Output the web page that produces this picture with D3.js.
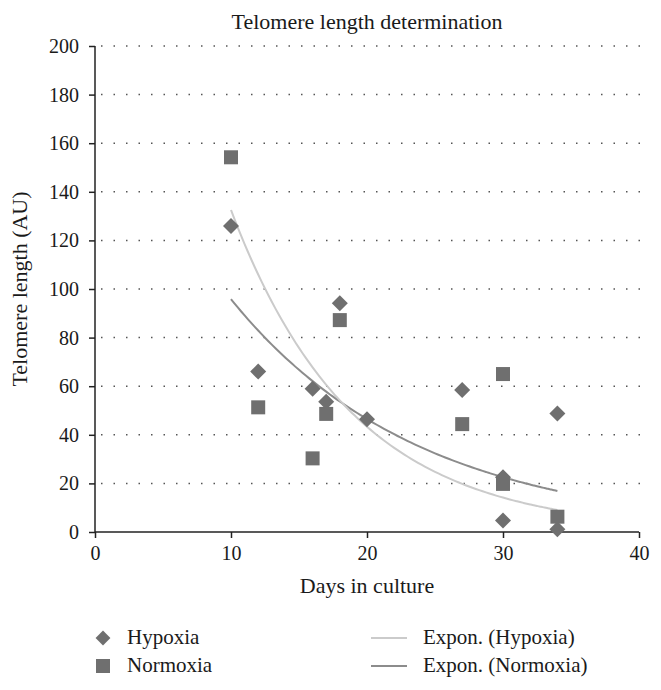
<!DOCTYPE html>
<html>
<head>
<meta charset="utf-8">
<script src="https://cdn.jsdelivr.net/npm/d3@7"></script>
<style>
  html, body { margin: 0; padding: 0; background: #fff; }
  svg text { font-family: "Liberation Serif", "DejaVu Serif", serif; fill: #1a1a1a; }
</style>
</head>
<body>
<svg id="chart" width="661" height="690"></svg>
<script>
// ---- data ----
const hypoxiaDays   = [10, 12, 16, 17, 18, 20, 27, 30, 30, 34, 34];
const hypoxiaValues = [125.9, 66, 59, 53.6, 94.1, 46.4, 58.4, 22.5, 4.7, 48.8, 1.1];
const normoxiaDays   = [10, 12, 16, 17, 18, 27, 30, 30, 34];
const normoxiaValues = [154.2, 51.3, 30.3, 48.6, 87.2, 44.4, 65, 19.8, 6.3];
// exponential trendline coefficients y = a * exp(b * x), drawn over [from, to]
const trendHypoxia  = [405.3, -0.1118, 10, 34];
const trendNormoxia = [197.4, -0.0723, 10, 34];
const xTicks = [0, 10, 20, 30, 40];
const yTicks = [0, 20, 40, 60, 80, 100, 120, 140, 160, 180, 200];
const seriesNames = ["Hypoxia", "Normoxia", "Expon. (Hypoxia)", "Expon. (Normoxia)"];
const titleText = "Telomere length determination";
const xTitle = "Days in culture";
const yTitle = "Telomere length (AU)";

(function () {
// ---- layout ----
const svg = d3.select("#chart");
const pLeft = 95, pRight = 639, pTop = 46, pBottom = 532;
const x = d3.scaleLinear().domain([0, 40]).range([pLeft, pRight]);
const y = d3.scaleLinear().domain([0, 200]).range([pBottom, pTop]);
const markerColor = "#6f6f6f";
const lightTrend = "#cbcbcb";
const darkTrend = "#8c8c8c";

// title
svg.append("text").attr("x", (pLeft + pRight) / 2).attr("y", 29)
  .attr("text-anchor", "middle").attr("font-size", 22).text(titleText);

// gridlines (dotted)
svg.append("g").selectAll("line").data(yTicks.filter(d => d > 0)).join("line")
  .attr("x1", pLeft + 6).attr("x2", pRight + 3)
  .attr("y1", d => y(d)).attr("y2", d => y(d))
  .attr("stroke", "#555").attr("stroke-width", 1.5)
  .attr("stroke-dasharray", "1.5,11");

// axes
const xAxis = svg.append("g").attr("transform", `translate(0,${pBottom})`)
  .call(d3.axisBottom(x).tickValues(xTicks).tickSize(6).tickPadding(8).tickFormat(d3.format("d")));
const yAxis = svg.append("g").attr("transform", `translate(${pLeft},0)`)
  .call(d3.axisLeft(y).tickValues(yTicks).tickSize(6).tickPadding(10).tickFormat(d3.format("d")));
[xAxis, yAxis].forEach(g => {
  g.attr("font-family", "Liberation Serif, DejaVu Serif, serif");
  g.select(".domain").attr("stroke", "#222").attr("stroke-width", 1.5);
  g.selectAll(".tick line").attr("stroke", "#222").attr("stroke-width", 1.5);
  g.selectAll(".tick text").attr("font-size", 20).attr("fill", "#1a1a1a");
});
xAxis.select(".domain").attr("d", `M${pLeft},0H${pRight}`);
yAxis.select(".domain").attr("d", `M0,${pBottom}V${pTop}`);

// axis titles
svg.append("text").attr("x", (pLeft + pRight) / 2).attr("y", 593)
  .attr("text-anchor", "middle").attr("font-size", 22).text(xTitle);
svg.append("text").attr("transform", `translate(27,${(pTop + pBottom) / 2}) rotate(-90)`)
  .attr("text-anchor", "middle").attr("font-size", 22).text(yTitle);

// trendlines
function trendPoints(t) {
  const [a, b, from, to] = t;
  return d3.range(from, to + 0.001, 0.25).map(v => [v, a * Math.exp(b * v)]);
}
const line = d3.line().x(d => x(d[0])).y(d => y(d[1])).curve(d3.curveMonotoneX);
svg.append("path").datum(trendPoints(trendNormoxia)).attr("d", line)
  .attr("fill", "none").attr("stroke", darkTrend).attr("stroke-width", 2);
svg.append("path").datum(trendPoints(trendHypoxia)).attr("d", line)
  .attr("fill", "none").attr("stroke", lightTrend).attr("stroke-width", 2);

// markers
const diamond = d3.symbol().type(d3.symbolSquare).size(128);
svg.append("g").selectAll("path").data(hypoxiaDays.map((d, i) => [d, hypoxiaValues[i]])).join("path")
  .attr("d", diamond)
  .attr("transform", d => `translate(${x(d[0])},${y(d[1])}) rotate(45)`)
  .attr("fill", markerColor);
svg.append("g").selectAll("rect").data(normoxiaDays.map((d, i) => [d, normoxiaValues[i]])).join("rect")
  .attr("x", d => x(d[0]) - 7).attr("y", d => y(d[1]) - 7)
  .attr("width", 14).attr("height", 14)
  .attr("fill", markerColor);

// legend
const legY1 = 638, legY2 = 666;
svg.append("path").attr("d", d3.symbol().type(d3.symbolSquare).size(110))
  .attr("transform", `translate(103,${legY1}) rotate(45)`).attr("fill", markerColor);
svg.append("rect").attr("x", 96).attr("y", legY2 - 7).attr("width", 14).attr("height", 14).attr("fill", markerColor);
svg.append("text").attr("x", 127).attr("y", legY1 + 6).attr("font-size", 21).text(seriesNames[0]);
svg.append("text").attr("x", 127).attr("y", legY2 + 6).attr("font-size", 21).text(seriesNames[1]);
svg.append("line").attr("x1", 371).attr("x2", 407).attr("y1", legY1).attr("y2", legY1)
  .attr("stroke", lightTrend).attr("stroke-width", 2);
svg.append("line").attr("x1", 371).attr("x2", 407).attr("y1", legY2).attr("y2", legY2)
  .attr("stroke", darkTrend).attr("stroke-width", 2);
svg.append("text").attr("x", 423).attr("y", legY1 + 6).attr("font-size", 21).text(seriesNames[2]);
svg.append("text").attr("x", 423).attr("y", legY2 + 6).attr("font-size", 21).text(seriesNames[3]);
})();
</script>
</body>
</html>
